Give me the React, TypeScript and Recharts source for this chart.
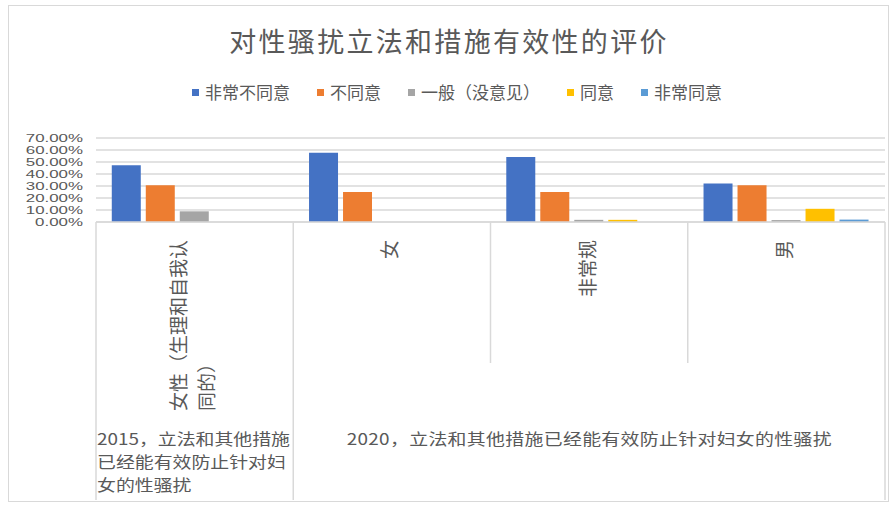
import React from 'react';
import { BarChart, Bar, XAxis, YAxis, CartesianGrid, Legend } from 'recharts';

const FONT = '"Noto Sans CJK SC", "Noto Sans", sans-serif';
const NUM_FONT = '"Liberation Sans", Arial, sans-serif';
const TEXT = '#595959';
const LINE = '#D9D9D9';

const title = '对性骚扰立法和措施有效性的评价';
const categories = ['女性（生理和自我认同的）', '女', '非常规', '男'];
const seriesNames = ['非常不同意', '不同意', '一般（没意见）', '同意', '非常同意'];
const seriesColors = ['#4472C4', '#ED7D31', '#A5A5A5', '#FFC000', '#5B9BD5'];

// values in percent, one array per series, in category order
const stronglyDisagree = [47.3, 57.8, 54.2, 32.0];
const disagree = [30.6, 25.0, 25.0, 30.6];
const neutral = [8.9, 0, 1.8, 1.6];
const agree = [0, 0, 1.8, 11.0];
const stronglyAgree = [0, 0, 0, 2.0];
const seriesValues = [stronglyDisagree, disagree, neutral, agree, stronglyAgree];

const yTicks = [0, 10, 20, 30, 40, 50, 60, 70];

const groupLabels = [
  '2015，立法和其他措施已经能有效防止针对妇女的性骚扰',
  '2020，立法和其他措施已经能有效防止针对妇女的性骚扰',
];
const groupStarts = [0, 1];
const groupEnds = [0, 3];

const data = categories.map((c, i) => {
  const row: any = { cat: c };
  seriesNames.forEach((s, k) => {
    row[s] = seriesValues[k][i];
  });
  return row;
});

const W = 896;
const H = 506;
const MARGIN = { top: 138, right: 11, bottom: 4, left: 0 };
const Y_W = 96;
const X_H = 280;
const PLOT_W = W - MARGIN.left - MARGIN.right - Y_W;
const BAND = PLOT_W / categories.length;

const CAT_FS = 19;
const GROUP_FS = 15.5;
const GROUP_SX = 1.22;

function charW(ch: string, fs: number) {
  if (/[0-9]/.test(ch)) return fs * 0.55;
  if (/[A-Za-z.%]/.test(ch)) return fs * 0.55;
  return fs;
}

function wrap(text: string, maxW: number, fs: number): string[] {
  const lines: string[] = [];
  let cur = '';
  let w = 0;
  for (const ch of Array.from(text)) {
    const cw = charW(ch, fs);
    if (w + cw > maxW && cur) {
      lines.push(cur);
      cur = ch;
      w = cw;
    } else {
      cur += ch;
      w += cw;
    }
  }
  if (cur) lines.push(cur);
  return lines;
}

const YTick = (props: any) => {
  const { x, y, payload } = props;
  return (
    <g transform={`translate(${x}, ${y}) scale(1.3, 0.78)`}>
      <text x={0} y={0} textAnchor="end" dominantBaseline="central" fill={TEXT} fontSize={13} fontFamily={NUM_FONT}>
        {`${Number(payload.value).toFixed(2)}%`}
      </text>
    </g>
  );
};

const CategoryTick = (props: any) => {
  const { x, y, payload } = props;
  const idx = categories.indexOf(payload.value);
  const left = x - BAND / 2;
  const right = x + BAND / 2;
  const isGroupStart = groupStarts.includes(idx);
  const isLast = idx === categories.length - 1;
  const lines = wrap(String(payload.value), 9 * CAT_FS, CAT_FS);
  const maxLen = Math.max(...lines.map((l) => Array.from(l).reduce((a, c) => a + charW(c, CAT_FS), 0)));
  const top = y + 18;
  const lineGap = 28;
  let groupEl: any = null;
  groupLabels.forEach((lbl, g) => {
    const s = groupStarts[g];
    const e = groupEnds[g];
    const span = (e - s + 1) * BAND;
    const mid = Math.floor((s + e) / 2);
    if (s === e && idx === s) {
      const gl = wrap(lbl, (span - 2) / GROUP_SX, GROUP_FS);
      groupEl = (
        <g transform={`translate(${left + 1}, ${y + 216}) scale(${GROUP_SX}, 1)`}>
          {gl.map((l, i) => (
            <text
              key={i}
              x={0}
              y={i * 23}
              fill={TEXT}
              fontSize={GROUP_FS}
              fontFamily={FONT}
              dominantBaseline="central"
            >
              {l}
            </text>
          ))}
        </g>
      );
    } else if (s !== e && idx === mid) {
      const cx = x + ((s + e) / 2 - mid) * BAND;
      groupEl = (
        <g transform={`translate(${cx}, ${y + 216}) scale(${GROUP_SX}, 1)`}>
          <text
            x={0}
            y={0}
            fill={TEXT}
            fontSize={GROUP_FS}
            fontFamily={FONT}
            textAnchor="middle"
            dominantBaseline="central"
            textLength={485 / GROUP_SX}
            lengthAdjust="spacing"
          >
            {lbl}
          </text>
        </g>
      );
    }
  });
  return (
    <g>
      <line x1={left} x2={left} y1={y} y2={isGroupStart ? y + 278 : y + 141} stroke={LINE} strokeWidth={1.5} />
      {isLast && <line x1={right} x2={right} y1={y} y2={y + 278} stroke={LINE} strokeWidth={1.5} />}
      <g transform={`translate(${x}, ${top}) rotate(-90)`}>
        {lines.map((l, i) => (
          <text
            key={i}
            x={-maxLen}
            y={(i - (lines.length - 1) / 2) * lineGap - 3}
            fill={TEXT}
            fontSize={CAT_FS}
            fontFamily={FONT}
            textAnchor="start"
            dominantBaseline="central"
          >
            {l}
          </text>
        ))}
      </g>
      {groupEl}
    </g>
  );
};

const LegendContent = () => (
  <div
    style={{
      display: 'flex',
      justifyContent: 'center',
      alignItems: 'center',
      gap: 27,
      fontSize: 17,
      lineHeight: '20px',
      color: TEXT,
      fontFamily: FONT,
      whiteSpace: 'nowrap',
    }}
  >
    {seriesNames.map((s, i) => (
      <span key={s} style={{ display: 'flex', alignItems: 'center' }}>
        <span style={{ display: 'inline-block', width: 7, height: 7, background: seriesColors[i], marginRight: 6 }} />
        {s}
      </span>
    ))}
  </div>
);

export default function App() {
  return (
    <div style={{ position: 'absolute', left: 0, top: 0, width: W, height: H, background: '#fff' }}>
      <div
        style={{
          position: 'absolute',
          left: 8,
          top: 5,
          width: 879,
          height: 495,
          border: `1px solid ${LINE}`,
        }}
      />
      <div
        style={{
          position: 'absolute',
          left: 0,
          top: 24,
          width: W,
          textAlign: 'center',
          fontSize: 27,
          lineHeight: '34px',
          letterSpacing: 2.3,
          color: TEXT,
          fontFamily: FONT,
          paddingLeft: 2,
          boxSizing: 'border-box',
        }}
      >
        {title}
      </div>
      <div style={{ position: 'absolute', left: 0, top: 0 }}>
        <BarChart width={W} height={H} data={data} margin={MARGIN} barCategoryGap="8%" barGap={5}>
          <CartesianGrid vertical={false} stroke={LINE} strokeWidth={1.5} />
          <XAxis
            dataKey="cat"
            height={X_H}
            interval={0}
            tickSize={0}
            tickMargin={0}
            tickLine={false}
            axisLine={{ stroke: LINE, strokeWidth: 1.5 }}
            tick={<CategoryTick />}
          />
          <YAxis
            width={Y_W}
            domain={[0, 70]}
            ticks={yTicks}
            interval={0}
            axisLine={false}
            tickLine={false}
            tickSize={0}
            tickMargin={13}
            tick={<YTick />}
          />
          <Legend
            verticalAlign="middle"
            align="center"
            layout="horizontal"
            wrapperStyle={{ top: 82, left: 18, width: 878 }}
            content={<LegendContent />}
          />
          {seriesNames.map((s, k) => (
            <Bar key={s} dataKey={s} name={s} fill={seriesColors[k]} isAnimationActive={false} />
          ))}
        </BarChart>
      </div>
    </div>
  );
}
